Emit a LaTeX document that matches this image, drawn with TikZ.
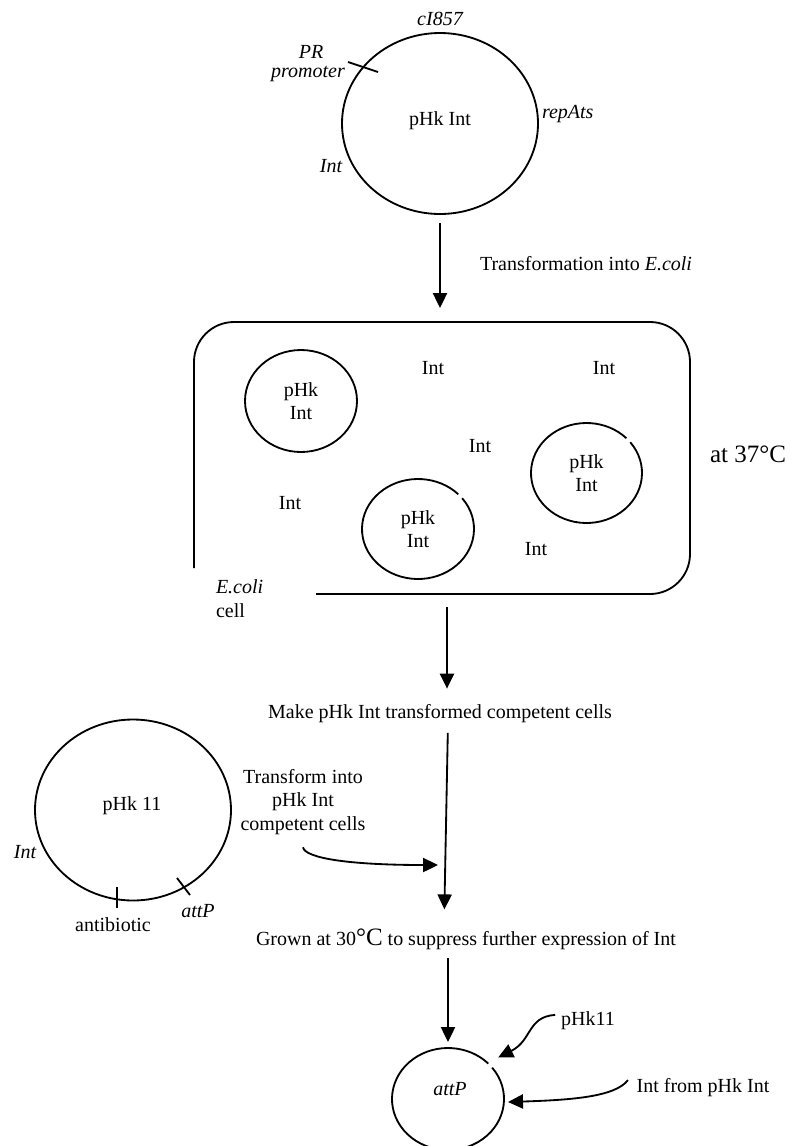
\documentclass[tikz,border=0pt]{standalone}
\usepackage{fontspec}
\setmainfont{Liberation Serif}
\usetikzlibrary{arrows.meta,shapes.geometric}
\begin{document}
\begin{tikzpicture}[x=0.6pt,y=-0.6pt,
  every node/.style={inner sep=0pt, outer sep=0pt, font=\fontsize{12}{14.1}\selectfont},
  line/.style={line width=1.1pt},
  arr/.style={line width=1.1pt, -{Triangle[length=9pt,width=8.5pt]}},
  bigplasmid/.style={ellipse, draw, line width=1.1pt, minimum width=117.6pt, minimum height=108.6pt},
  smallplasmid/.style={ellipse, align=center, minimum width=67.2pt, minimum height=60pt},
  lab/.style={anchor=base},
  ital/.style={anchor=base, font=\fontsize{12}{14.1}\selectfont\itshape},
]
\useasboundingbox (0,0) rectangle (788,1146);

% --- pHk Int plasmid ---
\node[bigplasmid] (top) at (440,123.5) {};
\node[lab] (ltop) at (440,125) {pHk Int};
\node[ital] (cI) at (440,25) {cI857};
\node[ital] (pr) at (311,58) {PR};
\node[ital] (prom) at (308,77) {promoter};
\node[ital, anchor=base west] (rep) at (542,118) {repAts};
\node[ital] (intL) at (331,172) {Int};
\draw[line] (348,62) -- (378,72);

\node[lab, anchor=base west] (trans) at (480,270) {Transformation into \textit{E.coli}};

% --- E. coli cell ---
\node[minimum width=297.6pt, minimum height=163.2pt] (cell) at (442,458) {};
\draw[line, rounded corners=24pt] (194,568) -- (194,322) -- (690,322) -- (690,594) -- (316,594);

\node[smallplasmid, draw, line width=1.1pt, minimum height=61.2pt] (c1) at (301,401) {pHk\\Int};
\node[smallplasmid] (c2) at (418,529) {pHk\\Int};
\draw[line] (c2.center) ++(-38:56 and 50) arc[start angle=-38, end angle=316, x radius=56, y radius=50];
\node[smallplasmid] (c3) at (586.5,473) {pHk\\Int};
\draw[line] (c3.center) ++(-38:55.5 and 50) arc[start angle=-38, end angle=316, x radius=55.5, y radius=50];

\node[lab] (i1) at (433,374) {Int};
\node[lab] (i2) at (604,374) {Int};
\node[lab] (i3) at (480,452) {Int};
\node[lab] (i4) at (290,509) {Int};
\node[lab] (i5) at (536,555) {Int};

\node[lab, anchor=base west, font=\fontsize{15}{18}\selectfont] (t37) at (710,462) {at 37°C};
\node[ital, anchor=base west] (ec) at (216,593) {E.coli};
\node[lab, anchor=base west] (cellw) at (216,617) {cell};

\node[lab] (make) at (440,718) {Make pHk Int transformed competent cells};

\draw[arr, shorten <=5.4pt, shorten >=8.4pt] (top.south) -- (top.south |- cell.north);
\coordinate (a2) at ([xshift=3pt]cell.south);
\draw[arr, shorten <=7.8pt, shorten >=9.2pt] (a2) -- (a2 |- make.north);

% --- pHk 11 plasmid ---
\node[bigplasmid] (p11) at (133,810) {};
\node[lab] (lp) at (132,810) {pHk 11};
\node[ital] (intp) at (25,858) {Int};
\draw[line] (117,887) -- (117,908);
\draw[line] (177,878) -- (190,895);
\node[lab] (ab) at (113,931) {antibiotic};
\node[ital] (attp) at (198,917) {attP};

\node[anchor=north, align=center] (tinto) at (303,769.3) {Transform into\\pHk Int\\competent cells};

\node[lab] (grown) at (466,945) {Grown at 30{\fontsize{15}{18}\selectfont °C} to suppress further expression of Int};

\draw[arr, shorten <=6.4pt, shorten >=11.4pt] ([xshift=4.8pt]make.south) -- ([xshift=-13.2pt]grown.north);
\coordinate (join) at (438,865);
\draw[arr] ([yshift=-7.6pt]tinto.south) .. controls +(2,11) and +(-88,0) .. (join);

% --- recombination product ---
\node[smallplasmid, minimum height=61.2pt] (bot) at (448,1099) {};
\draw[line] (bot.center) ++(-38:56 and 51) arc[start angle=-38, end angle=316, x radius=56, y radius=51];
\node[ital] (latt) at (450,1095) {attP};

\draw[arr, shorten <=5.2pt, shorten >=3.6pt] (bot.north |- grown.south) -- (bot.north);

\node[lab] (lp11) at (588,1025) {pHk11};
\draw[arr] ([xshift=-3.6pt,yshift=3.2pt]lp11.west) .. controls +(-28,2) and +(34,-17) .. ([xshift=5.4pt,yshift=4.2pt]bot.40);

\node[lab] (lif) at (703,1092) {Int from pHk Int};
\draw[arr] ([xshift=-5.2pt,yshift=4.2pt]lif.west) .. controls +(-13,17) and +(62,-2) .. ([xshift=2.4pt,yshift=-1.8pt]bot.east);
\end{tikzpicture}
\end{document}
